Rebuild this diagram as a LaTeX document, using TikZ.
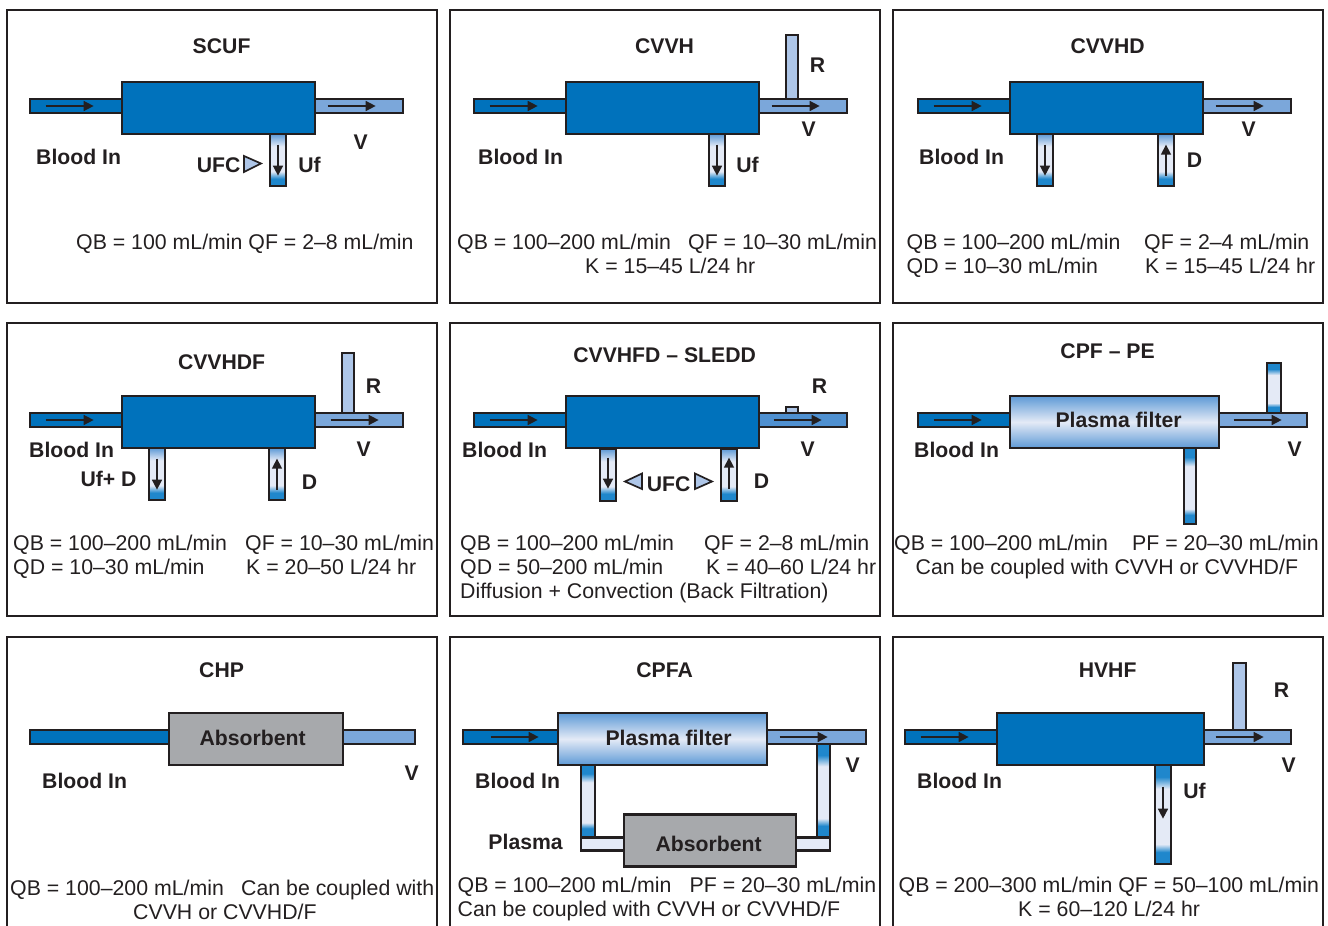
\documentclass[tikz,border=0pt]{standalone}
\usepackage{fontspec}
\setmainfont{Liberation Sans}
\usepackage{xcolor}
\usetikzlibrary{arrows.meta}
\definecolor{ink}{HTML}{231F20}
\definecolor{bloodblue}{HTML}{0072BC}
\definecolor{venblue}{HTML}{7BA7DA}
\definecolor{venmid}{HTML}{4F90D0}
\definecolor{repblue}{HTML}{AEC6E8}
\definecolor{endblue}{HTML}{1F87CC}
\definecolor{paleblue}{HTML}{E4EAF6}
\definecolor{filtblue}{HTML}{5E9AD6}
\definecolor{sorbgray}{HTML}{A7A9AC}
\pgfdeclareverticalshading{shortshade}{100bp}{color(0bp)=(endblue); color(32bp)=(endblue); color(39bp)=(paleblue); color(63bp)=(paleblue); color(75bp)=(filtblue); color(100bp)=(filtblue)}
\pgfdeclareverticalshading{tallshade}{100bp}{color(0bp)=(endblue); color(31bp)=(endblue); color(35bp)=(paleblue); color(63bp)=(paleblue); color(69bp)=(endblue); color(100bp)=(endblue)}

\begin{document}
\begin{tikzpicture}[
  x=1pt,y=-1pt,
  panel/.style={rectangle,draw=ink,line width=2.8pt,minimum width=430pt,minimum height=293pt,inner sep=0pt},
  tube/.style={rectangle,draw=ink,line width=2.7pt,inner sep=0pt},
  inl/.style={tube,fill=bloodblue,minimum height=14pt,minimum width=#1},
  outl/.style={tube,fill=#1,minimum height=14pt,minimum width=88pt},
  filt/.style={tube,fill=bloodblue,minimum width=193pt,minimum height=52pt},
  pfilt/.style={tube,top color=filtblue,bottom color=filtblue,middle color=paleblue,minimum width=#1,minimum height=52pt},
  sorb/.style={tube,fill=sorbgray,minimum width=#1,minimum height=52pt},
  drain/.style={tube,shade,shading=shortshade,minimum width=16pt,minimum height=52pt},
  lng/.style={tube,shade,shading=tallshade,minimum width=#1},
  rep/.style={tube,fill=repblue,minimum width=12pt},
  lab/.style={inner sep=0pt,text=ink,font=\fontsize{21.2}{24}\selectfont\bfseries,text height=15.2pt,text depth=0pt,xshift=.6pt},
  stat/.style={inner sep=0pt,anchor=base west,text=ink,font=\fontsize{21.3}{24}\selectfont},
  flow/.style={-{Triangle[length=10pt,width=10pt]},line width=1.5pt,draw=ink},
  ufcm/.style={draw=ink,line width=1.7pt,fill=repblue,line join=miter}
]
\clip (0,0) rectangle (1328,926);
\node[panel] (scufbox) at (222,156.5) {};
\node[panel] (cvvhbox) at (665,156.5) {};
\node[panel] (cvvhdbox) at (1108,156.5) {};
\node[panel] (cvvhdfbox) at (222,469.5) {};
\node[panel] (sleddbox) at (665,469.5) {};
\node[panel] (cpfbox) at (1108,469.5) {};
\node[panel] (chpbox) at (222,783.5) {};
\node[panel] (cpfabox) at (665,783.5) {};
\node[panel] (hvhfbox) at (1108,783.5) {};

\node[drain] (scufdrain) at (278,160) {};
\node[inl=92pt] (scufin) at (76,106) {};
\node[outl=venblue] (scufout) at (359,106) {};
\node[filt] (scufflt) at (218.5,108) {};
\draw[flow] ([xshift=17pt]scufin.west)--([xshift=65pt]scufin.west);
\draw[flow] ([xshift=14pt]scufout.west)--([xshift=62pt]scufout.west);
\draw[flow] ([yshift=-12pt]scufdrain.north)--([yshift=-43pt]scufdrain.north);
\draw[ufcm] (244,156)--(244,172)--(261,163.5)--cycle;
\node[lab] (scufttl) at (221,46) {SCUF};
\node[lab] (scufblood) at (78,157) {Blood In};
\node[lab] (scufufc) at (218,165) {UFC};
\node[lab] (scufuf) at (309,165) {Uf};
\node[lab] (scufv) at (360,142) {V};
\node[stat] (scufqb) at (76,249) {QB = 100 mL/min QF = 2–8 mL/min};

\node[drain] (cvvhdrain) at (717,160) {};
\node[rep,minimum height=64pt] (cvvhrep) at (792,67) {};
\node[inl=92pt] (cvvhin) at (520,106) {};
\node[outl=venblue] (cvvhout) at (803,106) {};
\node[filt] (cvvhflt) at (662.5,108) {};
\draw[flow] ([xshift=17pt]cvvhin.west)--([xshift=65pt]cvvhin.west);
\draw[flow] ([xshift=14pt]cvvhout.west)--([xshift=62pt]cvvhout.west);
\draw[flow] ([yshift=-12pt]cvvhdrain.north)--([yshift=-43pt]cvvhdrain.north);
\node[lab] (cvvhttl) at (664,46) {CVVH};
\node[lab] (cvvhblood) at (520,157) {Blood In};
\node[lab] (cvvhuf) at (747,165) {Uf};
\node[lab] (cvvhr) at (817,65) {R};
\node[lab] (cvvhv) at (808,129) {V};
\node[stat] (cvvhqb) at (457,249) {QB = 100–200 mL/min};
\node[stat] (cvvhqf) at (688,249) {QF = 10–30 mL/min};
\node[stat] (cvvhk) at (585,273) {K = 15–45 L/24 hr};

\node[drain] (cvvhddrain) at (1045,160) {};
\node[drain] (cvvhddial) at (1166,160) {};
\node[inl=92pt] (cvvhdin) at (964,106) {};
\node[outl=venblue] (cvvhdout) at (1247,106) {};
\node[filt] (cvvhdflt) at (1106.5,108) {};
\draw[flow] ([xshift=17pt]cvvhdin.west)--([xshift=65pt]cvvhdin.west);
\draw[flow] ([xshift=14pt]cvvhdout.west)--([xshift=62pt]cvvhdout.west);
\draw[flow] ([yshift=-12pt]cvvhddrain.north)--([yshift=-43pt]cvvhddrain.north);
\draw[flow] ([yshift=-43pt]cvvhddial.north)--([yshift=-12pt]cvvhddial.north);
\node[lab] (cvvhdttl) at (1107,46) {CVVHD};
\node[lab] (cvvhdblood) at (961,157) {Blood In};
\node[lab] (cvvhdd) at (1194,160) {D};
\node[lab] (cvvhdv) at (1248,129) {V};
\node[stat] (cvvhdqb) at (906.5,249) {QB = 100–200 mL/min};
\node[stat] (cvvhdqf) at (1144,249) {QF = 2–4 mL/min};
\node[stat] (cvvhdqd) at (906.5,273) {QD = 10–30 mL/min};
\node[stat] (cvvhdk) at (1145,273) {K = 15–45 L/24 hr};

\node[drain] (cvvhdfdrain) at (157,474) {};
\node[drain] (cvvhdfdial) at (277,474) {};
\node[rep,minimum height=60pt] (cvvhdfrep) at (348,383) {};
\node[inl=92pt] (cvvhdfin) at (76,420) {};
\node[outl=venblue] (cvvhdfout) at (359,420) {};
\node[filt] (cvvhdfflt) at (218.5,422) {};
\draw[flow] ([xshift=17pt]cvvhdfin.west)--([xshift=65pt]cvvhdfin.west);
\draw[flow] ([xshift=17pt]cvvhdfout.west)--([xshift=65pt]cvvhdfout.west);
\draw[flow] ([yshift=-12pt]cvvhdfdrain.north)--([yshift=-43pt]cvvhdfdrain.north);
\draw[flow] ([yshift=-43pt]cvvhdfdial.north)--([yshift=-12pt]cvvhdfdial.north);
\node[lab] (cvvhdfttl) at (221,362) {CVVHDF};
\node[lab] (cvvhdfblood) at (71,450) {Blood In};
\node[lab] (cvvhdfufd) at (108,479) {Uf+ D};
\node[lab] (cvvhdfd) at (309,482) {D};
\node[lab] (cvvhdfr) at (373,386) {R};
\node[lab] (cvvhdfv) at (363,449) {V};
\node[stat] (cvvhdfqb) at (13,550) {QB = 100–200 mL/min};
\node[stat] (cvvhdfqf) at (245,550) {QF = 10–30 mL/min};
\node[stat] (cvvhdfqd) at (13,574) {QD = 10–30 mL/min};
\node[stat] (cvvhdfk) at (246,574) {K = 20–50 L/24 hr};

\node[drain] (sleddrain) at (608,475) {};
\node[drain] (sledial) at (729,475) {};
\node[rep,minimum height=10pt] (sledrep) at (792,412) {};
\node[inl=92pt] (sledin) at (520,420) {};
\node[outl=venmid] (sledout) at (803,420) {};
\node[filt] (sledflt) at (662.5,422) {};
\draw[flow] ([xshift=17pt]sledin.west)--([xshift=65pt]sledin.west);
\draw[flow] ([xshift=16pt]sledout.west)--([xshift=64pt]sledout.west);
\draw[flow] ([yshift=-10pt]sleddrain.north)--([yshift=-41pt]sleddrain.north);
\draw[flow] ([yshift=-41pt]sledial.north)--([yshift=-10pt]sledial.north);
\draw[ufcm] (642,473.5)--(642,489)--(625,481.5)--cycle;
\draw[ufcm] (695,473.5)--(695,489)--(712,481.5)--cycle;
\node[lab] (sledttl) at (664,355) {CVVHFD – SLEDD};
\node[lab] (sledblood) at (504,450) {Blood In};
\node[lab] (sledufc) at (668,484) {UFC};
\node[lab] (sledd) at (761,481) {D};
\node[lab] (sledr) at (819,386) {R};
\node[lab] (sledv) at (807,449) {V};
\node[stat] (sledqb) at (460,550) {QB = 100–200 mL/min};
\node[stat] (sledqf) at (704,550) {QF = 2–8 mL/min};
\node[stat] (sledqd) at (460,574) {QD = 50–200 mL/min};
\node[stat] (sledk) at (706,574) {K = 40–60 L/24 hr};
\node[stat] (sleddiff) at (460,598) {Diffusion + Convection (Back Filtration)};

\node[lng=12pt,line width=2.1pt,minimum height=76pt] (cpfdrain) at (1190,486) {};
\node[lng=14pt,minimum height=50pt] (cpfup) at (1274,388) {};
\node[inl=92pt] (cpfin) at (964,420) {};
\node[outl=venblue] (cpfout) at (1263,420) {};
\node[pfilt=209pt] (cpfflt) at (1114.5,422) {};
\node[lab] at (1118,420) (cpfname) {Plasma filter};
\draw[flow] ([xshift=17pt]cpfin.west)--([xshift=65pt]cpfin.west);
\draw[flow] ([xshift=16pt]cpfout.west)--([xshift=64pt]cpfout.west);
\node[lab] (cpfttl) at (1107,351) {CPF – PE};
\node[lab] (cpfblood) at (956,450) {Blood In};
\node[lab] (cpfv) at (1294,449) {V};
\node[stat] (cpfqb) at (894,550) {QB = 100–200 mL/min};
\node[stat] (cpfpf) at (1132,550) {PF = 20–30 mL/min};
\node[stat] (cpfcan) at (915.5,574) {Can be coupled with CVVH or CVVHD/F};

\node[inl=139pt] (chpin) at (99.5,737) {};
\node[outl=venblue,minimum width=72pt] (chpout) at (379,737) {};
\node[sorb=174pt] (chpsorb) at (256,739) {};
\node[lab] (chpname) at (252,738) {Absorbent};
\node[lab] (chpttl) at (221,670) {CHP};
\node[lab] (chpblood) at (84,781) {Blood In};
\node[lab] (chpv) at (411,773) {V};
\node[stat] (chpqb) at (10,895) {QB = 100–200 mL/min};
\node[stat] (chpcan) at (241,895) {Can be coupled with};
\node[stat] (chpcvvh) at (133,919) {CVVH or CVVHD/F};

\node[lng=14pt,minimum height=72pt] (cpfaleft) at (588,801) {};
\node[lng=13pt,minimum height=93pt] (cpfaright) at (823.5,790.5) {};
\node[tube,fill=paleblue,minimum width=43pt,minimum height=13pt] (cpfaback) at (602.5,844) {};
\node[tube,fill=paleblue,minimum width=34pt,minimum height=13pt] (cpfaret) at (813,844) {};
\node[inl=95pt] (cpfain) at (510.5,737) {};
\node[outl=venblue,minimum width=99pt] (cpfaout) at (816.5,737) {};
\node[pfilt=209pt] (cpfaflt) at (662.5,739) {};
\node[lab] (cpfaname) at (668,738) {Plasma filter};
\node[sorb=172pt] (cpfasorb) at (710,840.5) {};
\node[lab] (cpfasname) at (708,844) {Absorbent};
\draw[flow] ([xshift=29pt]cpfain.west)--([xshift=77pt]cpfain.west);
\draw[flow] ([xshift=14pt]cpfaout.west)--([xshift=62pt]cpfaout.west);
\node[lab] (cpfattl) at (664,670) {CPFA};
\node[lab] (cpfablood) at (517,781) {Blood In};
\node[lab] (cpfaplasma) at (525,842) {Plasma};
\node[lab] (cpfav) at (852,765) {V};
\node[stat] (cpfaqb) at (457.5,892) {QB = 100–200 mL/min};
\node[stat] (cpfapf) at (689.5,892) {PF = 20–30 mL/min};
\node[stat] (cpfacan) at (457.5,916) {Can be coupled with CVVH or CVVHD/F};

\node[lng=16pt,minimum height=99pt] (hvhfdrain) at (1163,814.5) {};
\node[rep,minimum width=13pt,minimum height=67pt] (hvhfrep) at (1239.5,696.5) {};
\node[inl=92pt] (hvhfin) at (951,737) {};
\node[outl=venblue,minimum width=87pt] (hvhfout) at (1247.5,737) {};
\node[filt,minimum width=207pt] (hvhfflt) at (1100.5,739) {};
\draw[flow] ([xshift=17pt]hvhfin.west)--([xshift=65pt]hvhfin.west);
\draw[flow] ([xshift=13pt]hvhfout.west)--([xshift=61pt]hvhfout.west);
\draw[flow] ([yshift=-23pt]hvhfdrain.north)--([yshift=-55pt]hvhfdrain.north);
\node[lab] (hvhfttl) at (1107,670) {HVHF};
\node[lab] (hvhfblood) at (959,781) {Blood In};
\node[lab] (hvhfuf) at (1194,791) {Uf};
\node[lab] (hvhfr) at (1281,690) {R};
\node[lab] (hvhfv) at (1288,765) {V};
\node[stat] (hvhfqb) at (898.5,892) {QB = 200–300 mL/min QF = 50–100 mL/min};
\node[stat] (hvhfk) at (1018,916) {K = 60–120 L/24 hr};
\end{tikzpicture}
\end{document}
